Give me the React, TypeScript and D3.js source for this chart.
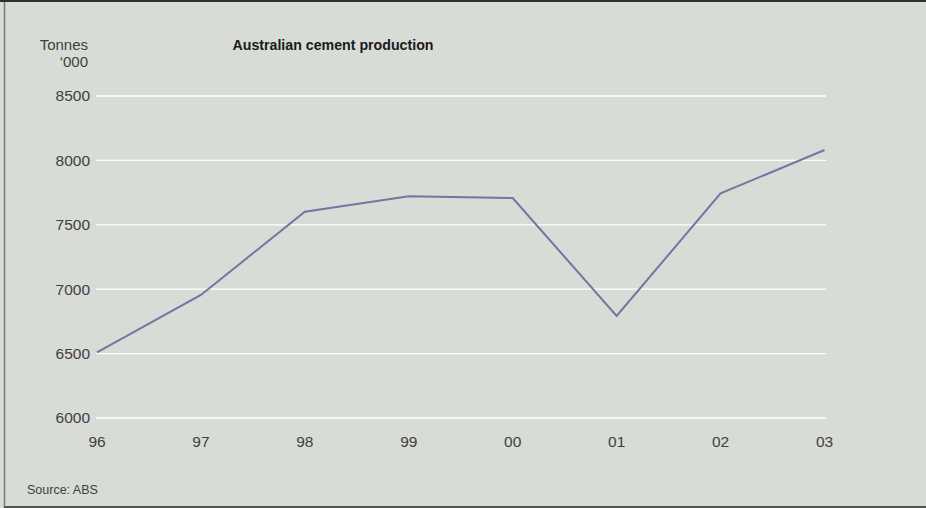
import React from "react";
import * as d3 from "d3";

const years = ["96", "97", "98", "99", "00", "01", "02", "03"];
const production = [6510, 6955, 7602, 7722, 7708, 6792, 7744, 8081];
const yTicks = [6000, 6500, 7000, 7500, 8000, 8500];

const W = 926;
const H = 508;

export default function App() {
  const x = d3.scalePoint<string>().domain(years).range([97, 824.5]);
  const y = d3.scaleLinear().domain([6000, 8500]).range([418, 96]);
  const line = d3
    .line<number>()
    .x((_, i) => x(years[i]) as number)
    .y((d) => y(d));

  const font = "'Liberation Sans', Arial, Helvetica, sans-serif";
  const textColor = "#404040";

  return (
    <svg
      width={W}
      height={H}
      style={{ position: "absolute", left: 0, top: 0, display: "block" }}
      fontFamily={font}
    >
      <rect x={0} y={0} width={W} height={H} fill="#d8dcd6" />
      <rect x={0} y={0} width={W} height={2} fill="#2a3136" />
      <line x1={4.5} x2={4.5} y1={2} y2={H} stroke="#7a7a7a" strokeWidth={1.5} />
      <line x1={4} x2={W} y1={507} y2={507} stroke="#555" strokeWidth={2} />

      {yTicks.map((t) => (
        <g key={t}>
          <line x1={96} x2={826} y1={y(t)} y2={y(t)} stroke="#ffffff" strokeWidth={1.3} />
          <text
            x={90}
            y={y(t)}
            dy="0.35em"
            textAnchor="end"
            fontSize={15.5}
            fill={textColor}
          >
            {t}
          </text>
        </g>
      ))}

      {years.map((yr) => (
        <text
          key={yr}
          x={x(yr) as number}
          y={446.5}
          textAnchor="middle"
          fontSize={15.5}
          fill={textColor}
        >
          {yr}
        </text>
      ))}

      <path d={line(production) || ""} fill="none" stroke="#7077a0" strokeWidth={2} />

      <text x={333} y={50} textAnchor="middle" fontSize={14.2} fontWeight="bold" fill="#1a1a1a">
        Australian cement production
      </text>
      <text x={88} y={50} textAnchor="end" fontSize={15} fill={textColor}>
        Tonnes
      </text>
      <text x={88} y={67} textAnchor="end" fontSize={15} fill={textColor}>
        ‘000
      </text>
      <text x={27} y={494} fontSize={12.5} fill={textColor}>
        Source: ABS
      </text>
    </svg>
  );
}
